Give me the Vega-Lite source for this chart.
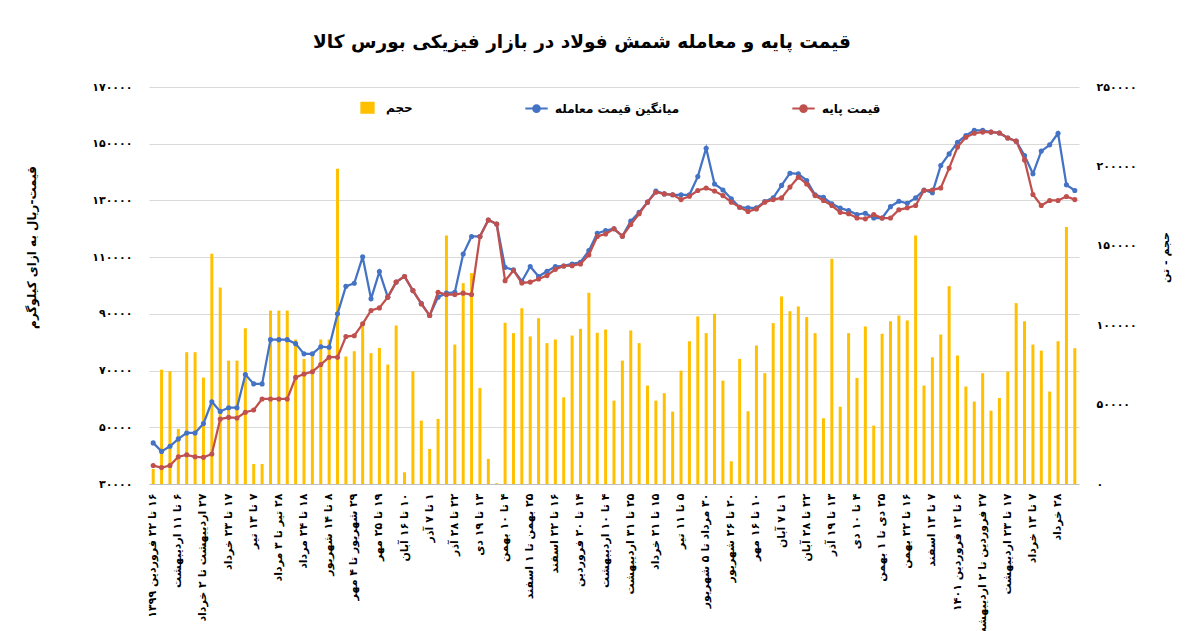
{
  "$schema": "https://vega.github.io/schema/vega-lite/v6.json",
  "width": 930,
  "height": 397,
  "autosize": {"type": "none"},
  "padding": {"left": 149, "top": 87, "right": 121, "bottom": 147},
  "background": "white",
  "title": {
    "text": "قیمت پایه و معامله شمش فولاد در بازار فیزیکی بورس کالا",
    "font": "DejaVu Sans",
    "fontSize": 18.5,
    "fontWeight": "bold",
    "color": "#000000",
    "anchor": "middle",
    "offset": 30,
    "dx": -32
  },
  "data": {
    "values": [
      {"w": "۱۶ تا ۲۲ فروردین ۱۳۹۹", "avg": 44500, "base": 36500, "vol": 9500},
      {"w": "_1", "avg": 41500, "base": 35800, "vol": 72000},
      {"w": "_2", "avg": 43300, "base": 36500, "vol": 71000},
      {"w": "۶ تا ۱۱ اردیبهشت", "avg": 45900, "base": 39600, "vol": 34700},
      {"w": "_4", "avg": 48000, "base": 40300, "vol": 83000},
      {"w": "_5", "avg": 48000, "base": 39600, "vol": 83000},
      {"w": "۲۷ اردیبهشت تا ۲ خرداد", "avg": 51300, "base": 39400, "vol": 67000},
      {"w": "_7", "avg": 59000, "base": 40600, "vol": 145000},
      {"w": "_8", "avg": 55600, "base": 52900, "vol": 123700},
      {"w": "۱۷ تا ۲۳ خرداد", "avg": 56900, "base": 53500, "vol": 77700},
      {"w": "_10", "avg": 56900, "base": 53300, "vol": 77700},
      {"w": "_11", "avg": 68600, "base": 55300, "vol": 98100},
      {"w": "۷ تا ۱۳ تیر", "avg": 65300, "base": 56100, "vol": 12600},
      {"w": "_13", "avg": 65300, "base": 60000, "vol": 12600},
      {"w": "_14", "avg": 80900, "base": 60000, "vol": 109200},
      {"w": "۲۸ تیر تا ۳ مرداد", "avg": 80900, "base": 60000, "vol": 109200},
      {"w": "_16", "avg": 80900, "base": 60000, "vol": 109200},
      {"w": "_17", "avg": 79500, "base": 67600, "vol": 91000},
      {"w": "۱۸ تا ۲۴ مرداد", "avg": 75900, "base": 68800, "vol": 78800},
      {"w": "_19", "avg": 75900, "base": 69600, "vol": 80500},
      {"w": "_20", "avg": 78400, "base": 72100, "vol": 91000},
      {"w": "۸ تا ۱۴ شهریور", "avg": 78200, "base": 74700, "vol": 91000},
      {"w": "_22", "avg": 90000, "base": 74700, "vol": 198500},
      {"w": "_23", "avg": 99700, "base": 82000, "vol": 80300},
      {"w": "۲۹ شهریور تا ۴ مهر", "avg": 100800, "base": 82300, "vol": 83600},
      {"w": "_25", "avg": 110100, "base": 86500, "vol": 99400},
      {"w": "_26", "avg": 95300, "base": 91200, "vol": 82400},
      {"w": "۱۹ تا ۲۵ مهر", "avg": 104900, "base": 92100, "vol": 85700},
      {"w": "_28", "avg": 95900, "base": 95900, "vol": 75200},
      {"w": "_29", "avg": 101200, "base": 101200, "vol": 99800},
      {"w": "۱۰ تا ۱۶ آبان", "avg": 103200, "base": 103200, "vol": 7400},
      {"w": "_31", "avg": 98200, "base": 98200, "vol": 71000},
      {"w": "_32", "avg": 93700, "base": 93500, "vol": 39900},
      {"w": "۱ تا ۷ آذر", "avg": 89400, "base": 89400, "vol": 22100},
      {"w": "_34", "avg": 95900, "base": 97600, "vol": 41000},
      {"w": "_35", "avg": 97300, "base": 96800, "vol": 156500},
      {"w": "۲۲ تا ۲۸ آذر", "avg": 97600, "base": 96800, "vol": 87800},
      {"w": "_37", "avg": 111100, "base": 97300, "vol": 126500},
      {"w": "_38", "avg": 117300, "base": 96800, "vol": 132800},
      {"w": "۱۳ تا ۱۹ دی", "avg": 117300, "base": 117300, "vol": 60500},
      {"w": "_40", "avg": 123100, "base": 123100, "vol": 15800},
      {"w": "_41", "avg": 121700, "base": 121700, "vol": 500},
      {"w": "۴ تا ۱۰ بهمن", "avg": 106400, "base": 101700, "vol": 101500},
      {"w": "_43", "avg": 105500, "base": 105300, "vol": 95000},
      {"w": "_44", "avg": 101500, "base": 100900, "vol": 110700},
      {"w": "۲۵ بهمن تا ۱ اسفند", "avg": 106700, "base": 101200, "vol": 92900},
      {"w": "_46", "avg": 103200, "base": 102300, "vol": 104400},
      {"w": "_47", "avg": 105000, "base": 103500, "vol": 88700},
      {"w": "۱۶ تا ۲۲ اسفند", "avg": 106700, "base": 105700, "vol": 91000},
      {"w": "_49", "avg": 106900, "base": 106900, "vol": 54600},
      {"w": "_50", "avg": 107600, "base": 107000, "vol": 93500},
      {"w": "۱۴ تا ۲۰ فروردین", "avg": 108200, "base": 107600, "vol": 97700},
      {"w": "_52", "avg": 112300, "base": 110800, "vol": 120400},
      {"w": "_53", "avg": 118400, "base": 117300, "vol": 95200},
      {"w": "۴ تا ۱۰ اردیبهشت", "avg": 119400, "base": 118200, "vol": 97300},
      {"w": "_55", "avg": 120000, "base": 120000, "vol": 52500},
      {"w": "_56", "avg": 117400, "base": 117400, "vol": 77700},
      {"w": "۲۵ تا ۳۱ اردیبهشت", "avg": 122700, "base": 121500, "vol": 96700},
      {"w": "_58", "avg": 125800, "base": 125300, "vol": 88700},
      {"w": "_59", "avg": 129400, "base": 129400, "vol": 62000},
      {"w": "۱۵ تا ۲۱ خرداد", "avg": 133300, "base": 132900, "vol": 52500},
      {"w": "_61", "avg": 132300, "base": 132300, "vol": 57200},
      {"w": "_62", "avg": 132000, "base": 132000, "vol": 45600},
      {"w": "۵ تا ۱۱ تیر", "avg": 132000, "base": 130300, "vol": 71400},
      {"w": "_64", "avg": 132000, "base": 131500, "vol": 89900},
      {"w": "_65", "avg": 138400, "base": 133500, "vol": 105500},
      {"w": "۳۰ مرداد تا ۵ شهریور", "avg": 148400, "base": 134400, "vol": 95000},
      {"w": "_67", "avg": 135800, "base": 133300, "vol": 107200},
      {"w": "_68", "avg": 133700, "base": 131700, "vol": 65100},
      {"w": "۲۰ تا ۲۶ شهریور", "avg": 130600, "base": 129400, "vol": 14300},
      {"w": "_70", "avg": 127600, "base": 127600, "vol": 78800},
      {"w": "_71", "avg": 127400, "base": 126100, "vol": 45800},
      {"w": "۱۰ تا ۱۶ مهر", "avg": 127400, "base": 127000, "vol": 87200},
      {"w": "_73", "avg": 129600, "base": 129400, "vol": 69800},
      {"w": "_74", "avg": 130900, "base": 130300, "vol": 101300},
      {"w": "۱ تا ۷ آبان", "avg": 135300, "base": 130900, "vol": 118100},
      {"w": "_76", "avg": 139600, "base": 134700, "vol": 108800},
      {"w": "_77", "avg": 139400, "base": 138200, "vol": 111800},
      {"w": "۲۲ تا ۲۸ آبان", "avg": 137000, "base": 135800, "vol": 105100},
      {"w": "_79", "avg": 132000, "base": 131700, "vol": 95000},
      {"w": "_80", "avg": 131100, "base": 130000, "vol": 41400},
      {"w": "۱۳ تا ۱۹ آذر", "avg": 128800, "base": 128200, "vol": 141800},
      {"w": "_82", "avg": 127300, "base": 125800, "vol": 48700},
      {"w": "_83", "avg": 126400, "base": 125300, "vol": 95000},
      {"w": "۴ تا ۱۰ دی", "avg": 125000, "base": 123800, "vol": 66800},
      {"w": "_85", "avg": 125500, "base": 123500, "vol": 99200},
      {"w": "_86", "avg": 123800, "base": 125000, "vol": 36800},
      {"w": "۲۵ دی تا ۱ بهمن", "avg": 123800, "base": 123800, "vol": 94600},
      {"w": "_88", "avg": 127800, "base": 123800, "vol": 102500},
      {"w": "_89", "avg": 129700, "base": 126700, "vol": 106100},
      {"w": "۱۶ تا ۲۲ بهمن", "avg": 129000, "base": 127400, "vol": 103000},
      {"w": "_91", "avg": 130900, "base": 128200, "vol": 156500},
      {"w": "_92", "avg": 133700, "base": 133500, "vol": 62000},
      {"w": "۷ تا ۱۳ اسفند", "avg": 132700, "base": 133700, "vol": 79800},
      {"w": "_94", "avg": 142300, "base": 134400, "vol": 94100},
      {"w": "_95", "avg": 146400, "base": 141400, "vol": 124600},
      {"w": "۶ تا ۱۲ فروردین ۱۴۰۱", "avg": 150500, "base": 148800, "vol": 80900},
      {"w": "_97", "avg": 152900, "base": 152300, "vol": 61400},
      {"w": "_98", "avg": 154700, "base": 153700, "vol": 51900},
      {"w": "۲۷ فروردین تا ۲ اردیبهشت", "avg": 154700, "base": 154100, "vol": 69800},
      {"w": "_100", "avg": 154100, "base": 154100, "vol": 46200},
      {"w": "_101", "avg": 153800, "base": 153800, "vol": 54200},
      {"w": "۱۷ تا ۲۳ اردیبهشت", "avg": 152000, "base": 152000, "vol": 70800},
      {"w": "_103", "avg": 150900, "base": 150900, "vol": 113900},
      {"w": "_104", "avg": 145800, "base": 144300, "vol": 102500},
      {"w": "۷ تا ۱۳ خرداد", "avg": 139400, "base": 132100, "vol": 87800},
      {"w": "_106", "avg": 147400, "base": 128200, "vol": 84000},
      {"w": "_107", "avg": 149600, "base": 130000, "vol": 58200},
      {"w": "۲۸ خرداد", "avg": 153700, "base": 130000, "vol": 89900},
      {"w": "_109", "avg": 135500, "base": 131400, "vol": 161800},
      {"w": "_110", "avg": 133500, "base": 130300, "vol": 85500}
    ]
  },
  "encoding": {
    "x": {
      "field": "w",
      "type": "ordinal",
      "sort": null,
      "scale": {"paddingInner": 0, "paddingOuter": 0},
      "axis": {
        "title": null,
        "labelAngle": 270,
        "labelExpr": "indexof(datum.value, '_') === 0 ? '' : '\u200f' + datum.value",
        "labelFont": "DejaVu Sans",
        "labelFontSize": 11,
        "labelFontWeight": "bold",
        "labelColor": "#000000",
        "labelPadding": 9,
        "labelLimit": 300,
        "labelOverlap": false,
        "ticks": false,
        "domainColor": "#BFBFBF",
        "grid": false
      }
    }
  },
  "layer": [
    {
      "mark": {"type": "bar", "width": 3},
      "encoding": {
        "y": {
          "field": "vol",
          "type": "quantitative",
          "scale": {"domain": [0, 250000]},
          "axis": {
            "orient": "right",
            "title": "حجم - تن",
            "values": [0, 50000, 100000, 150000, 200000, 250000],
            "labelExpr": "replace(replace(replace(replace(replace(replace(replace(replace(replace(replace(format(datum.value, 'd'), regexp('0', 'g'), '۰'), regexp('1', 'g'), '۱'), regexp('2', 'g'), '۲'), regexp('3', 'g'), '۳'), regexp('4', 'g'), '۴'), regexp('5', 'g'), '۵'), regexp('6', 'g'), '۶'), regexp('7', 'g'), '۷'), regexp('8', 'g'), '۸'), regexp('9', 'g'), '۹')",
            "grid": false,
            "domain": false,
            "ticks": false,
            "labelPadding": 17,
            "labelAlign": "left",
            "titleAngle": 270,
            "titleX": 91,
            "titleY": 170,
            "titleFontSize": 11
          }
        },
        "color": {
          "datum": "حجم",
          "scale": {
            "domain": ["حجم", "میانگین قیمت معامله", "قیمت پایه"],
            "range": ["#FFC000", "#4472C4", "#C0504D"]
          },
          "legend": {
            "title": null,
            "orient": "none",
            "legendX": 206,
            "legendY": 8,
            "direction": "horizontal",
            "columnPadding": 108,
            "symbolSize": 500,
            "labelOffset": 6,
            "labelFont": "DejaVu Sans",
            "labelFontSize": 12,
            "labelFontWeight": "bold",
            "labelColor": "#000000",
            "encode": {
              "symbols": {
                "update": {
                  "shape": {"signal": "datum.value === 'حجم' ? 'M-0.55,-0.45H0.55V0.45H-0.55Z' : 'M-1,0H1M0.3,0A0.3,0.3 0 1,1 -0.3,0A0.3,0.3 0 1,1 0.3,0'"},
                  "fill": {"scale": "color", "field": "value"},
                  "stroke": {"scale": "color", "field": "value"},
                  "strokeWidth": {"value": 2},
                  "opacity": {"value": 1}
                }
              }
            }
          }
        }
      }
    },
    {
      "layer": [
        {
          "mark": {"type": "line", "strokeWidth": 2.25, "point": {"filled": true, "size": 26, "opacity": 1}},
          "encoding": {
            "y": {
              "field": "avg",
              "type": "quantitative",
              "scale": {"domain": [30000, 170000]},
              "axis": {
                "orient": "left",
                "title": "قیمت-ریال به ازای کیلوگرم",
                "values": [30000, 50000, 70000, 90000, 110000, 130000, 150000, 170000],
                "labelExpr": "replace(replace(replace(replace(replace(replace(replace(replace(replace(replace(format(datum.value, 'd'), regexp('0', 'g'), '۰'), regexp('1', 'g'), '۱'), regexp('2', 'g'), '۲'), regexp('3', 'g'), '۳'), regexp('4', 'g'), '۴'), regexp('5', 'g'), '۵'), regexp('6', 'g'), '۶'), regexp('7', 'g'), '۷'), regexp('8', 'g'), '۸'), regexp('9', 'g'), '۹')",
                "grid": true,
                "gridColor": "#D9D9D9",
                "domain": false,
                "ticks": false,
                "labelPadding": 17,
                "titleAngle": 270,
                "titleX": -111,
                "titleY": 160,
                "titleFontSize": 12
              }
            },
            "color": {"datum": "میانگین قیمت معامله"}
          }
        },
        {
          "mark": {"type": "line", "strokeWidth": 2.25, "point": {"filled": true, "size": 26, "opacity": 1}},
          "encoding": {
            "y": {
              "field": "base",
              "type": "quantitative",
              "scale": {"domain": [30000, 170000]}
            },
            "color": {"datum": "قیمت پایه"}
          }
        }
      ]
    }
  ],
  "resolve": {"scale": {"y": "independent"}},
  "config": {
    "view": {"stroke": null},
    "axis": {
      "labelFont": "DejaVu Sans",
      "labelFontSize": 11,
      "labelFontWeight": "bold",
      "labelColor": "#000000",
      "titleFont": "DejaVu Sans",
      "titleFontWeight": "bold",
      "titleColor": "#000000"
    }
  }
}
